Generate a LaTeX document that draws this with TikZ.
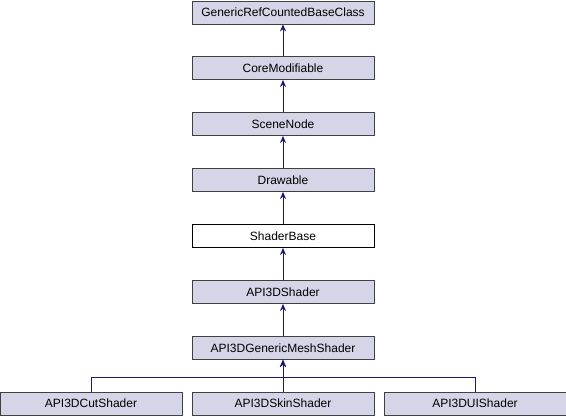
\documentclass[tikz,border=0pt]{standalone}
\usepackage{fontspec}
\setmainfont{Liberation Sans}
\usetikzlibrary{arrows.meta}
\definecolor{boxfill}{RGB}{212,214,232}
\definecolor{boxline}{RGB}{64,64,64}
\definecolor{edgecol}{RGB}{25,25,112}
\begin{document}
\begin{tikzpicture}[x=1pt,y=-1pt,
  cls/.style={draw=boxline,fill=boxfill,line width=0.9pt,minimum width=182pt,minimum height=23pt,inner sep=0pt,font=\fontsize{12}{14}\selectfont},
  cur/.style={cls,fill=white,draw=black},
  inh/.style={draw=edgecol,line width=1pt,-{Stealth[length=7pt,width=6pt]}}]
\useasboundingbox (0,0) rectangle (566,416);
\node[cls] (g) at (283,12.5) {GenericRefCountedBaseClass};
\node[cls] (c) at (283,68) {CoreModifiable};
\node[cls] (s) at (283,124) {SceneNode};
\node[cls] (d) at (283,180) {Drawable};
\node[cur] (sb) at (283,236) {ShaderBase};
\node[cls] (a) at (283,292) {API3DShader};
\node[cls] (m) at (283,348) {API3DGenericMeshShader};
\node[cls] (cut) at (91,403.5) {API3DCutShader};
\node[cls] (skin) at (283,403.5) {API3DSkinShader};
\node[cls] (ui) at (475,403.5) {API3DUIShader};
\draw[inh] (c) -- (g);
\draw[inh] (s) -- (c);
\draw[inh] (d) -- (s);
\draw[inh] (sb) -- (d);
\draw[inh] (a) -- (sb);
\draw[inh] (m) -- (a);
\draw[inh] (skin) -- (m);
\draw[inh] (cut.north) |- (283,377) -- (m.south);
\draw[inh] (ui.north) |- (283,377) -- (m.south);
\end{tikzpicture}
\end{document}
